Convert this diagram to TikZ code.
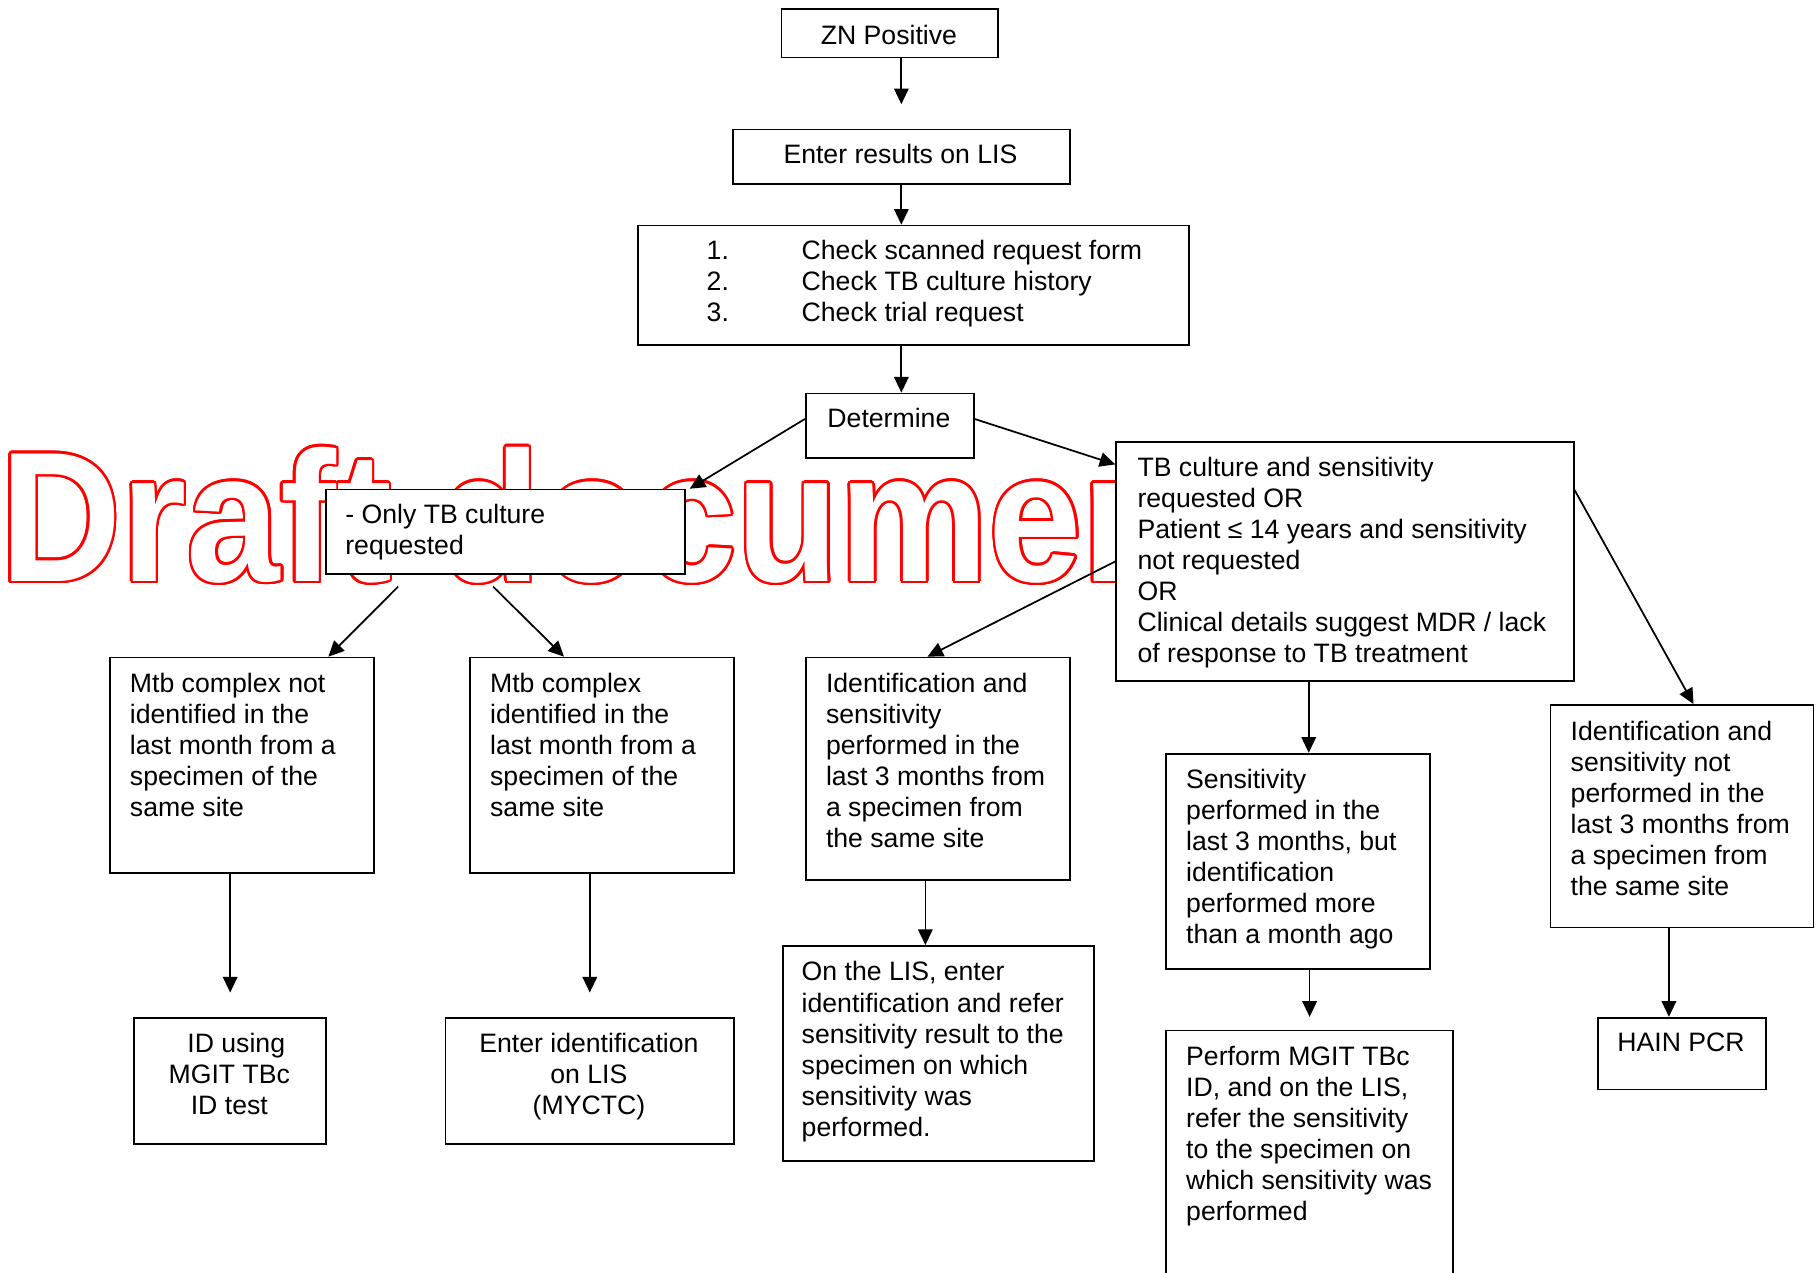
\documentclass[tikz,border=0pt]{standalone}
\usepackage{fontspec}
\usepackage{graphicx}
\setmainfont{Liberation Sans}
\newfontfamily\wmfont{Liberation Sans}
\usetikzlibrary{arrows.meta,calc}

% multi-line text whose baseline is that of its first line
\newcommand{\mlines}[2][l]{\begin{tabular}[t]{@{}#1@{}}#2\end{tabular}}
\newcommand{\wmtext}{\scalebox{0.906}[1]{\wmfont\bfseries\fontsize{160}{160}\selectfont Draft document}}

\tikzset{
  box/.style={draw=black, line width=1.5pt, fill=white, inner sep=0pt, anchor=north west},
  txt/.style={inner sep=0pt, anchor=base west, font=\fontsize{23}{26.8}\selectfont},
  ctxt/.style={txt, anchor=base},
  arr/.style={line width=1.5pt, -{Triangle[length=13.5pt,width=12.5pt]}},
  wm/.style={inner sep=0pt, anchor=base west},
}

\begin{document}
\begin{tikzpicture}[x=1pt, y=-1pt]
\useasboundingbox (0,0) rectangle (1568,1099);
\fill[white] (0,0) rectangle (1568,1099);
\clip (0,0) rectangle (1568,1099);

% watermark: outlined red lettering
\coordinate (wmo) at (0,502);
\foreach \a in {0,20,...,340}
  \node[wm, text=red] (wmc\a) at ($(wmo)+(\a:2.2)$) {\wmtext};
\node[wm, text=white] (wm) at (wmo) {\wmtext};

% boxes
\node[box, minimum width=187pt, minimum height=42pt]  (zn)     at (674,7)    {};
\node[box, minimum width=291pt, minimum height=47pt]  (enter)  at (632,111)  {};
\node[box, minimum width=476pt, minimum height=103pt] (check)  at (550,194)  {};
\node[box, minimum width=145pt, minimum height=56pt]  (det)    at (695,339)  {};
\node[box, minimum width=310pt, minimum height=73pt]  (onlytb) at (281,422)  {};
\node[box, minimum width=395pt, minimum height=206pt] (tbc)    at (963,381)  {};
\node[box, minimum width=228pt, minimum height=186pt] (mtbn)   at (94,567)   {};
\node[box, minimum width=228pt, minimum height=186pt] (mtbi)   at (405,567)  {};
\node[box, minimum width=228pt, minimum height=192pt] (idp)    at (695,567)  {};
\node[box, minimum width=228pt, minimum height=186pt] (sensp)  at (1006,650) {};
\node[box, minimum width=227pt, minimum height=192pt] (idn)    at (1338,608) {};
\node[box, minimum width=166pt, minimum height=109pt] (idu)    at (115,878)  {};
\node[box, minimum width=249pt, minimum height=109pt] (enid)   at (384,878)  {};
\node[box, minimum width=269pt, minimum height=186pt] (onlis)  at (675,816)  {};
\node[box, minimum width=248pt, minimum height=260pt] (perf)   at (1006,889) {};
\node[box, minimum width=145pt, minimum height=62pt]  (hain)   at (1379,878) {};

% texts
\node[ctxt] (znt)     at (767.5,38)  {ZN Positive};
\node[ctxt] (entert)  at (777.5,141.5) {Enter results on LIS};
\node[txt]  (checkn)  at (610,224)   {\mlines{1.\\2.\\3.}};
\node[txt]  (checkt)  at (692,224)   {\mlines{Check scanned request form\\Check TB culture history\\Check trial request}};
\node[ctxt] (dett)    at (767.5,369) {Determine};
\node[txt]  (onlytbt) at (298,452)   {\mlines{- Only TB culture\\requested}};
\node[txt]  (tbct)    at (982,411)   {\mlines{TB culture and sensitivity\\requested OR\\Patient ≤ 14 years and sensitivity\\not requested\\OR\\Clinical details suggest MDR / lack\\of response to TB treatment}};
\node[txt]  (mtbnt)   at (112,598)   {\mlines{Mtb complex not\\identified in the\\last month from a\\specimen of the\\same site}};
\node[txt]  (mtbit)   at (423,598)   {\mlines{Mtb complex\\identified in the\\last month from a\\specimen of the\\same site}};
\node[txt]  (idpt)    at (713,598)   {\mlines{Identification and\\sensitivity\\performed in the\\last 3 months from\\a specimen from\\the same site}};
\node[txt]  (senspt)  at (1024,681)  {\mlines{Sensitivity\\performed in the\\last 3 months, but\\identification\\performed more\\than a month ago}};
\node[txt]  (idnt)    at (1356,639)  {\mlines{Identification and\\sensitivity not\\performed in the\\last 3 months from\\a specimen from\\the same site}};
\node[ctxt] (idut)    at (198,909)   {\mlines[c]{\hspace*{12pt}ID using\\MGIT TBc\\ID test}};
\node[ctxt] (enidt)   at (508.5,909) {\mlines[c]{Enter identification\\on LIS\\(MYCTC)}};
\node[txt]  (onlist)  at (692,847)   {\mlines{On the LIS, enter\\identification and refer\\sensitivity result to the\\specimen on which\\sensitivity was\\performed.}};
\node[txt]  (perft)   at (1024,920)  {\mlines{Perform MGIT TBc\\ID, and on the LIS,\\refer the sensitivity\\to the specimen on\\which sensitivity was\\performed}};
\node[ctxt] (haint)   at (1451.5,908) {HAIN PCR};

% connectors
\draw[arr] (zn.south -| enter.north) -- ([yshift=21pt]enter.north);
\draw[arr] (enter.south) -- (enter.south |- check.north);
\draw[arr] (check.south -| enter.south) -- (det.north -| enter.south);
\draw[arr] ([yshift=6pt]det.west) -- ([xshift=3pt]onlytb.north east);
\draw[arr] ([yshift=6pt]det.east) -- ([yshift=-20pt]tbc.north west);
\draw[arr] ([shift={(-93pt,-10pt)}]onlytb.south) -- ([xshift=-40pt]mtbn.north east);
\draw[arr] ([shift={(-11pt,-10pt)}]onlytb.south) -- ([xshift=82pt]mtbi.north west);
\draw[arr] (tbc.west) -- ([xshift=-9pt]idp.north);
\draw[arr] ([yshift=-42pt]tbc.north east) -- ([xshift=10pt]idn.north);
\coordinate (v5) at (1130,0);
\draw[arr] (tbc.south -| v5) -- (sensp.north -| v5);
\draw[arr] (mtbn.south -| idu.north) -- ([yshift=21pt]idu.north);
\draw[arr] (mtbi.south -| enid.north) -- ([yshift=21pt]enid.north);
\coordinate (v7) at (799,0);
\draw[arr] (idp.south -| v7) -- (onlis.north -| v7);
\draw[arr] (sensp.south -| perf.north) -- ([yshift=11pt]perf.north);
\coordinate (v9) at (1441,0);
\draw[arr] (idn.south -| v9) -- (hain.north -| v9);
\end{tikzpicture}
\end{document}
